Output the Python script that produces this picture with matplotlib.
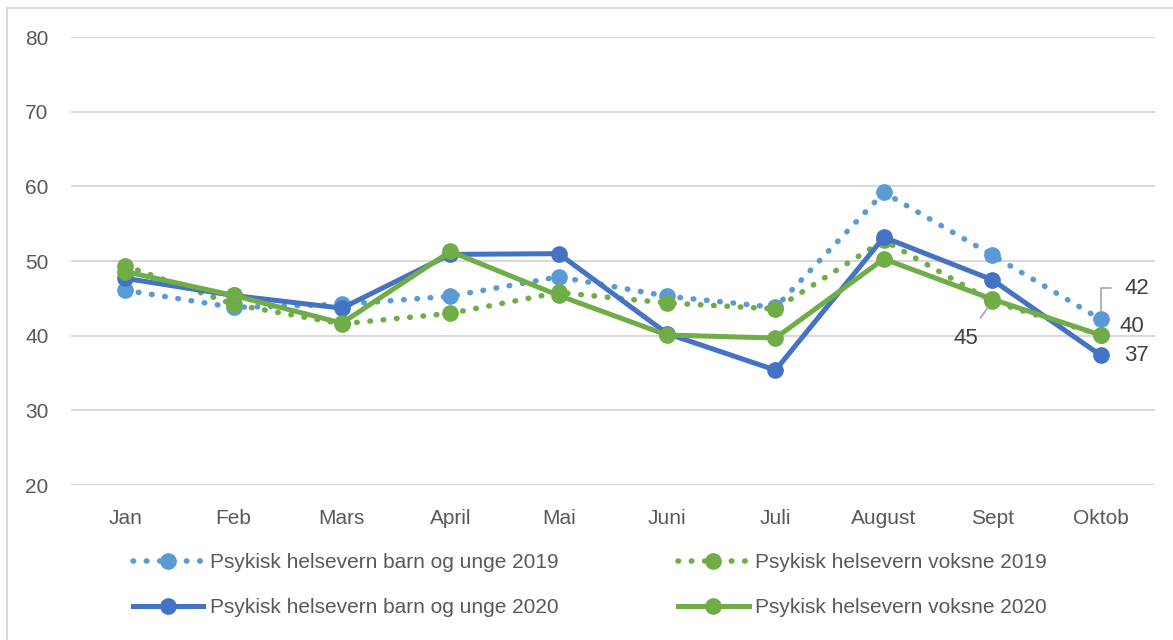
import numpy as np
import matplotlib.pyplot as plt
from matplotlib.patches import Rectangle

plt.rcParams['font.family'] = ['Liberation Sans', 'DejaVu Sans']

maaneder = ['Jan', 'Feb', 'Mars', 'April', 'Mai', 'Juni', 'Juli', 'August', 'Sept', 'Oktob']
barn_2019 = [46.1, 43.8, 44.2, 45.3, 47.9, 45.3, 43.8, 59.2, 50.8, 42.2]
voksne_2019 = [49.4, 44.2, 41.6, 43.0, 45.8, 44.4, 43.6, 52.8, 44.6, 40.1]
barn_2020 = [47.7, 45.4, 43.7, 50.9, 51.0, 40.3, 35.4, 53.2, 47.5, 37.4]
voksne_2020 = [48.6, 45.4, 41.7, 51.3, 45.4, 40.1, 39.7, 50.3, 44.9, 40.1]

lyseblaa = '#5B9BD5'
blaa = '#4472C4'
gronn = '#70AD47'

fig = plt.figure(figsize=(11.73, 6.4), dpi=100)
ax = fig.add_axes([0.0605, 0.242, 0.924, 0.70])

x = np.arange(len(maaneder))
prikk = (0, (0.1, 2.3))

l1, = ax.plot(x, barn_2019, color=lyseblaa, lw=4, ls=prikk, dash_capstyle='round',
              marker='o', ms=11, zorder=3, label='Psykisk helsevern barn og unge 2019')
l2, = ax.plot(x, voksne_2019, color=gronn, lw=4, ls=prikk, dash_capstyle='round',
              marker='o', ms=11, zorder=3, label='Psykisk helsevern voksne 2019')
l3, = ax.plot(x, barn_2020, color=blaa, lw=3.6, marker='o', ms=11, zorder=4,
              label='Psykisk helsevern barn og unge 2020')
l4, = ax.plot(x, voksne_2020, color=gronn, lw=3.6, marker='o', ms=11, zorder=5,
              label='Psykisk helsevern voksne 2020')

ax.set_xlim(-0.5, len(maaneder) - 0.5)
ax.set_ylim(20, 80)
ax.set_yticks(range(20, 81, 10))
ax.set_xticks(x)
ax.set_xticklabels(maaneder)
ax.tick_params(length=0, labelsize=15, labelcolor='#595959')
ax.tick_params(axis='x', pad=17)
ax.tick_params(axis='y', pad=16)
ax.grid(axis='y', color='#D9D9D9', lw=1.5)
ax.set_axisbelow(True)
for s in ax.spines.values():
    s.set_visible(False)

# dataetiketter
tekst = dict(fontsize=16, color='#404040')
ax.annotate(f'{barn_2019[9]:.0f}', xy=(9, barn_2019[9]), xytext=(9.22, 46.4),
            va='center', ha='left',
            arrowprops=dict(arrowstyle='-', color='#A6A6A6', lw=1.2,
                            connectionstyle='angle,angleA=0,angleB=90,rad=0',
                            shrinkA=8, shrinkB=6), **tekst)
ax.text(9.17, voksne_2020[9] + 1.2, f'{voksne_2020[9]:.0f}', va='center', ha='left', **tekst)
ax.text(9.22, barn_2020[9] - 0.1, f'{barn_2020[9]:.0f}', va='center', ha='left', **tekst)
ax.annotate(f'{voksne_2019[8]:.0f}', xy=(8, voksne_2019[8]), xytext=(7.76, 39.7),
            va='center', ha='center',
            arrowprops=dict(arrowstyle='-', color='#A6A6A6', lw=1.2,
                            shrinkA=6, shrinkB=4), **tekst)

fig.legend(handles=[l1, l3, l2, l4], ncol=2, loc='upper left',
           bbox_to_anchor=(0.097, 0.165), frameon=False, fontsize=15,
           labelcolor='#595959', handlelength=3.4, columnspacing=5.75,
           labelspacing=1.25, handletextpad=0.3)

fig.patches.append(Rectangle((0.006, -0.1), 1.1, 1.0875, transform=fig.transFigure,
                             fill=False, edgecolor='#D9D9D9', lw=1.5))

fig.savefig('out.png', dpi=100)
